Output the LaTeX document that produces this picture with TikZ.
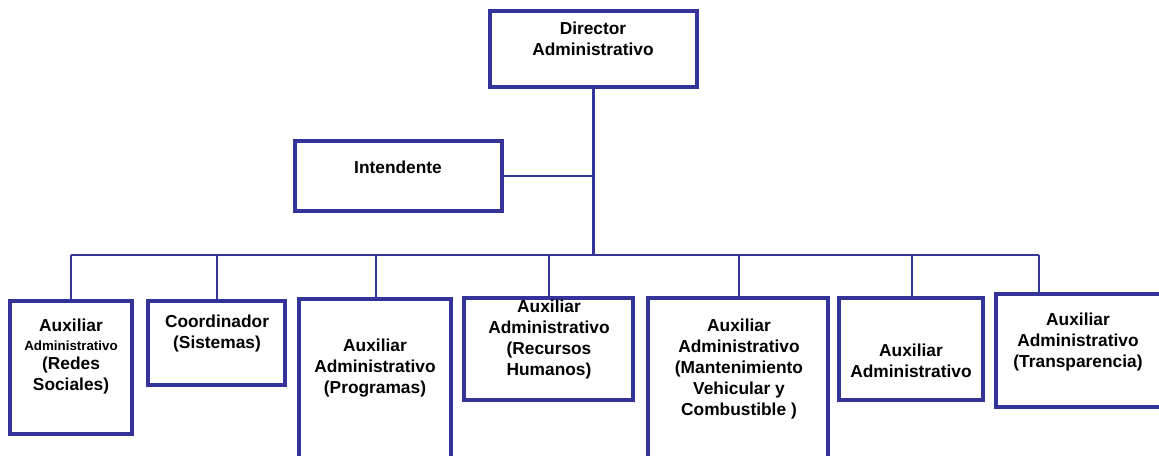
\documentclass[tikz,border=0pt]{standalone}
\usepackage{fontspec}
\setmainfont{Liberation Sans}
\usetikzlibrary{fit}
\definecolor{orgblue}{RGB}{51,51,153}
\begin{document}
\begin{tikzpicture}[x=0.75pt,y=-0.75pt,
  box/.style={draw=orgblue, line width=2.5pt, inner sep=0pt, fill=none},
  conn/.style={draw=orgblue, line width=2pt},
  txt/.style={align=center, font=\fontsize{13}{15.75}\selectfont\bfseries, inner sep=0pt, text=black}]
\useasboundingbox (0,0) rectangle (1159,455);
\clip (0,0) rectangle (1159,455);
% boxes
\node[box, fit={(490,11)(697,87)}] (dir) {};
\node[box, fit={(295,141)(502,211)}] (int) {};
\node[box, fit={(10,301)(132,434)}] (b1) {};
\node[box, fit={(148,301)(285,385)}] (b2) {};
\node[box, fit={(299,299)(451,480)}] (b3) {};
\node[box, fit={(464,298)(633,400)}] (b4) {};
\node[box, fit={(648,298)(828,480)}] (b5) {};
\node[box, fit={(839,298)(983,400)}] (b6) {};
\node[box, fit={(996,294)(1180,407)}] (b7) {};
% texts
\node[txt] (tdir) at (593,39) {Director\\Administrativo};
\node[txt] (tint) at (398,167) {Intendente};
\node[txt] (t1) at (71,357) {Auxiliar\\[-2pt]{\fontsize{10}{12}\selectfont Administrativo}\\[-1pt](Redes\\Sociales)};
\node[txt] (t2) at (217,333.5) {Coordinador\\(Sistemas)};
\node[txt] (t3) at (375,368) {Auxiliar\\Administrativo\\(Programas)};
\node[txt] (t4) at (549,339.5) {Auxiliar\\Administrativo\\(Recursos\\Humanos)};
\node[txt] (t5) at (739,369) {Auxiliar\\Administrativo\\(Mantenimiento\\Vehicular y\\Combustible )};
\node[txt] (t6) at (911,360.5) {Auxiliar\\Administrativo};
\node[txt] (t7) at (1078,342) {Auxiliar\\Administrativo\\(Transparencia)};
% connectors
\coordinate (bus) at (593,255);
\draw[conn] (dir.south) -- (dir.south |- bus);
\draw[conn] (int.east) -- (int.east -| dir.south);
\coordinate (b1top) at (71,301);
\coordinate (b2top) at (217,301);
\coordinate (b3top) at (376,299);
\coordinate (b4top) at (549,298);
\coordinate (b5top) at (739,298);
\coordinate (b6top) at (912,298);
\coordinate (b7top) at (1039,294);
\draw[conn] (b1top |- bus) -- (b7top |- bus);
\foreach \t in {b1top,b2top,b3top,b4top,b5top,b6top,b7top}
  \draw[conn] (\t) -- (\t |- bus);
\end{tikzpicture}
\end{document}
